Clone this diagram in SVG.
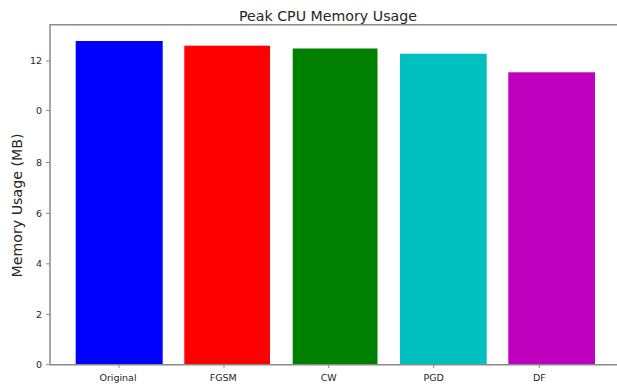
<svg xmlns="http://www.w3.org/2000/svg" width="617" height="387" viewBox="0 0 617 387">
<style>
text{font-family:"DejaVu Sans",sans-serif;fill:#262626}
.tk{font-size:9.5px}
.ty{text-anchor:end}
.tx{text-anchor:middle}
.sp{stroke:#8a8a8a;stroke-width:1.5;fill:none}
.tm{stroke:#8a8a8a;stroke-width:1}
</style>
<rect width="617" height="387" fill="#fff"/>
<g id="bars">
<rect id="bar-original" x="75.7" y="41" width="87" height="323.7" fill="#0000ff"/>
<rect id="bar-fgsm" x="184.3" y="45.7" width="85.7" height="319" fill="#ff0000"/>
<rect id="bar-cw" x="292.7" y="48.5" width="84.8" height="316.2" fill="#008000"/>
<rect id="bar-pgd" x="400" y="53.7" width="86.7" height="311" fill="#00bfbf"/>
<rect id="bar-df" x="508.3" y="72.3" width="86.7" height="292.4" fill="#bf00bf"/>
</g>
<g id="axes">
<path class="sp" d="M50 364.7V24.7H617M50 364.7H617"/>
<path class="tm" d="M46 364.7H50M46 314.3H50M46 263.8H50M46 213.3H50M46 162.5H50M46 110.5H50M46 61H50"/>
<path class="tm" d="M119 364.7V368M224 364.7V368M328.7 364.7V368M433.7 364.7V368M539.3 364.7V368"/>
</g>
<g id="yticks" class="tk ty">
<text x="42" y="368">0</text>
<text x="42" y="317.6">2</text>
<text x="42" y="267.1">4</text>
<text x="42" y="216.6">6</text>
<text x="42" y="165.8">8</text>
<text x="42" y="113.8">0</text>
<text x="42" y="64.3">12</text>
</g>
<g id="xticks" class="tk tx">
<text x="118" y="380.5">Original</text>
<text x="223.3" y="380.5">FGSM</text>
<text x="328.7" y="380.5">CW</text>
<text x="433.7" y="380.5">PGD</text>
<text x="539.3" y="380.5">DF</text>
</g>
<text id="title" x="328" y="21" font-size="14.2" text-anchor="middle" fill="#1a1a1a">Peak CPU Memory Usage</text>
<text id="ylabel" transform="translate(22,205.5) rotate(-90)" font-size="14.2" text-anchor="middle" fill="#1a1a1a">Memory Usage (MB)</text>
</svg>
